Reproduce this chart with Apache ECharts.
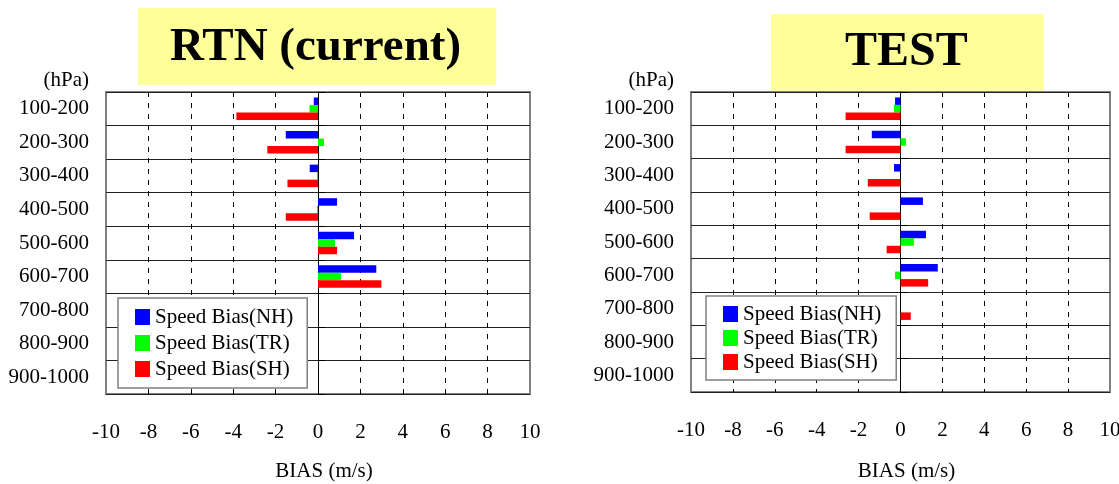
<!DOCTYPE html>
<html>
<head>
<meta charset="utf-8">
<script src="https://cdn.jsdelivr.net/npm/echarts@6/dist/echarts.min.js"></script>
<style>
html,body{margin:0;padding:0;background:#fff;}
#chart{width:1119px;height:484px;}
</style>
</head>
<body>
<div id="chart"></div>
<script>
const levels = ['100-200','200-300','300-400','400-500','500-600','600-700','700-800','800-900','900-1000'];
const seriesNames = ['Speed Bias(NH)','Speed Bias(TR)','Speed Bias(SH)'];
const xTicks = [-10,-8,-6,-4,-2,0,2,4,6,8,10];
const panelTitles = ['RTN (current)','TEST'];
const yUnit = '(hPa)';
const xName = 'BIAS (m/s)';

const rtnNH = [-0.2, -1.52, -0.39, 0.9, 1.7, 2.75, null, null, null];
const rtnTR = [-0.4, 0.28, -0.05, -0.05, 0.8, 1.08, null, null, null];
const rtnSH = [-3.85, -2.39, -1.44, -1.52, 0.9, 2.99, null, null, null];

const testNH = [-0.26, -1.37, -0.31, 1.07, 1.22, 1.78, null, null, null];
const testTR = [-0.31, 0.26, null, null, 0.64, -0.26, null, null, null];
const testSH = [-2.62, -2.62, -1.56, -1.47, -0.66, 1.32, 0.49, null, null];

const colors = ['#0000FF','#00FF00','#FF0000'];
const FONT = "'Liberation Serif','Times New Roman',serif";

const chart = echarts.init(document.getElementById('chart'), null, {renderer:'canvas'});

const grids = [
  {left:106, top:92, width:424, height:302},
  {left:691, top:92, width:419, height:300}
];
const labelMargins = [28, 28];
const nameGaps = [67, 69];

function xAxisFor(i){
  return {
    type:'value', gridIndex:i, min:xTicks[0], max:xTicks[xTicks.length-1], interval:2,
    axisLine:{show:false}, axisTick:{show:false},
    axisLabel:{fontFamily:FONT, fontSize:21, color:'#000', margin:labelMargins[i],
      formatter: v => String(v)},
    splitLine:{show:true, showMinLine:false, showMaxLine:false,
      lineStyle:{color:'#000', width:1, type:[5,6]}},
    name:xName, nameLocation:'middle', nameGap:nameGaps[i],
    nameTextStyle:{fontFamily:FONT, fontSize:21, color:'#000', padding:[0,0,0,12]}
  };
}
function yAxesFor(i){
  return [
    {
      type:'category', gridIndex:i, data:levels, inverse:true,
      axisLine:{show:false, onZero:false}, axisTick:{show:false},
      axisLabel:{fontFamily:FONT, fontSize:21, color:'#000', margin:17, padding:[7,0,0,0]},
      splitLine:{show:true, lineStyle:{color:'#222', width:1}},
      name:yUnit, nameLocation:'start', nameGap:1,
      nameTextStyle:{fontFamily:FONT, fontSize:21, color:'#000', align:'right',
        verticalAlign:'bottom', padding:[0,17,0,0]}
    },
    {
      type:'category', gridIndex:i, data:levels, inverse:true, position:'right',
      axisLine:{show:true, onZero:true, lineStyle:{color:'#000', width:1}},
      axisTick:{show:true, length:7, lineStyle:{color:'#000', width:1}},
      axisLabel:{show:false}, splitLine:{show:false}
    }
  ];
}
const panelData = [[rtnNH, rtnTR, rtnSH],[testNH, testTR, testSH]];
const series = [];
panelData.forEach((arrs, gi) => {
  arrs.forEach((d, si) => {
    series.push({
      type:'bar', name:seriesNames[si], xAxisIndex:gi, yAxisIndex:gi*2,
      data:d, barWidth:7.5, barGap:'0%',
      itemStyle:{color:colors[si]}, emphasis:{disabled:true}, animation:false
    });
  });
});

const option = {
  animation:false,
  backgroundColor:'#fff',
  color:colors,
  title:[
    {text:panelTitles[0], left:138, top:8, padding:[16,35,14,32], backgroundColor:'#FFFF99',
      textStyle:{fontFamily:FONT, fontSize:47, fontWeight:'bold', color:'#000', lineHeight:47}},
    {text:panelTitles[1], left:771, top:14, padding:[15,76,14,74], backgroundColor:'#FFFF99',
      textStyle:{fontFamily:FONT, fontSize:48, fontWeight:'bold', color:'#000', lineHeight:48}}
  ],
  grid: grids.map(g => Object.assign({show:true, borderColor:'#808080', borderWidth:2,
    backgroundColor:'transparent', containLabel:false, outerBoundsMode:'none'}, g)),
  xAxis:[xAxisFor(0), xAxisFor(1)],
  yAxis:[...yAxesFor(0), ...yAxesFor(1)],
  legend:[
    {orient:'vertical', left:118, top:298, data:seriesNames, icon:'rect', itemWidth:15, itemHeight:16,
      itemGap:4, padding:[8,14,8,17], backgroundColor:'#fff', borderColor:'#808080', borderWidth:1.5,
      selectedMode:false,
      textStyle:{fontFamily:FONT, fontSize:21, color:'#000', lineHeight:22}},
    {orient:'vertical', left:706, top:296, data:seriesNames, icon:'rect', itemWidth:15, itemHeight:16,
      itemGap:2, padding:[7,15,7,17], backgroundColor:'#fff', borderColor:'#808080', borderWidth:1.5,
      selectedMode:false,
      textStyle:{fontFamily:FONT, fontSize:21, color:'#000', lineHeight:22}}
  ],
  series: series
};
chart.setOption(option);
</script>
</body>
</html>
